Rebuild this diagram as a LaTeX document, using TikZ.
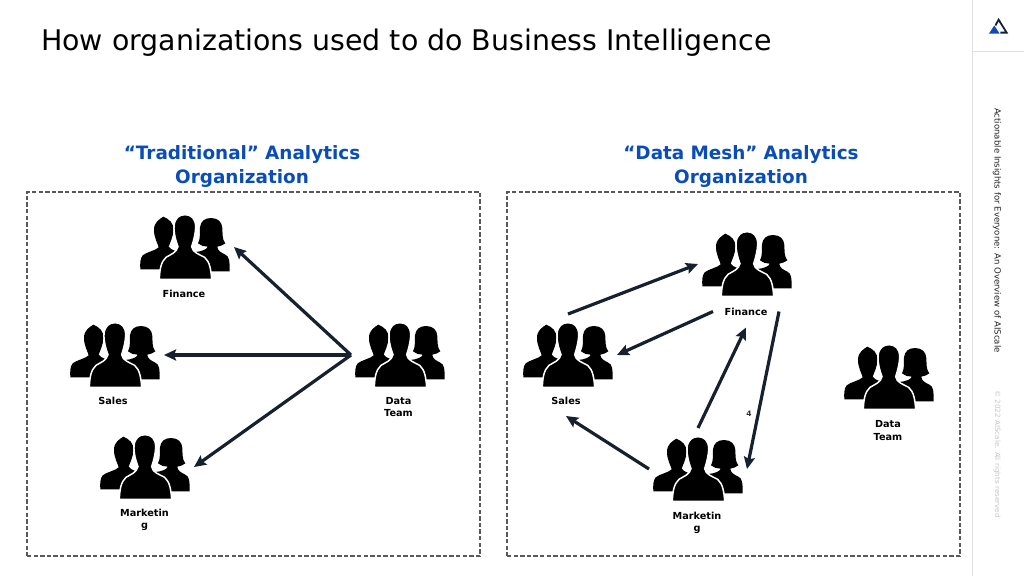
\documentclass[tikz,border=0pt]{standalone}
\usepackage{fontspec}
\setmainfont{DejaVu Sans}
\usetikzlibrary{arrows.meta}
\definecolor{arrowdark}{HTML}{17202E}
\definecolor{headblue}{HTML}{0A4DB8}
\definecolor{logoblue}{HTML}{0F4CB0}
\definecolor{rulegray}{HTML}{E2E2E2}
\newcommand{\fs}[1]{\fontsize{#1}{#1}\selectfont}
\tikzset{
  link/.style={draw=arrowdark,line width=3.2pt,-{Stealth[length=12pt,width=11pt,inset=2pt]}},
  iconbox/.style={minimum width=98pt,minimum height=82pt,inner sep=0pt,outer sep=0pt},
  panel/.style={draw=black!65,line width=1.2pt,dash pattern=on 4.4pt off 2.2pt},
  orghead/.style={text=headblue,font=\fs{18.4}\bfseries,align=center,text width=300pt,inner sep=0pt},
  lab/.style={font=\fs{9.7}\bfseries,align=center,inner sep=0pt,outer sep=0pt},
  people/.pic={
    \begin{scope}[scale=1/3,shift={(-139,-105)}]
      \fill[black] (5,172) .. controls (4,155) and (4,140) .. (12,130)
        .. controls (24,120) and (50,116) .. (60,106)
        .. controls (58,96) and (46,78) .. (46,54)
        .. controls (46,30) and (62,22) .. (74,14)
        .. controls (92,22) and (105,32) .. (104,54)
        .. controls (104,74) and (94,92) .. (90,104)
        .. controls (92,110) and (100,112) .. (112,118)
        -- (90,172) -- cycle;
      \fill[black] (178,94) .. controls (186,80) and (183,60) .. (184,46)
        .. controls (186,28) and (198,18) .. (217,18)
        .. controls (238,18) and (250,30) .. (251,48)
        .. controls (252,65) and (250,82) .. (260,94)
        .. controls (254,100) and (244,102) .. (236,104)
        .. controls (236,116) and (248,122) .. (260,128)
        .. controls (272,134) and (273,145) .. (273,178)
        -- (200,178) -- (170,120) .. controls (190,118) and (205,112) .. (207,104)
        .. controls (196,104) and (186,101) .. (178,94) -- cycle;
      \fill[black,draw=white,line width=1.5pt] (62,202) .. controls (63,175) and (66,150) .. (82,136)
        .. controls (96,127) and (114,122) .. (118,104)
        .. controls (112,88) and (105,66) .. (106,42)
        .. controls (108,18) and (122,8) .. (139,8)
        .. controls (158,8) and (170,20) .. (171,42)
        .. controls (171,66) and (164,88) .. (159,104)
        .. controls (162,122) and (182,127) .. (198,136)
        .. controls (214,150) and (217,175) .. (219,202) -- cycle;
    \end{scope}
  }
}
\begin{document}
\begin{tikzpicture}[x=1pt,y=-1pt]
\useasboundingbox (0,0) rectangle (1024,576);
\fill[white] (0,0) rectangle (1024,576);
% side bar
\coordinate (barT) at (972,0); \coordinate (barB) at (972,576);
\coordinate (ruleL) at (972,51); \coordinate (ruleR) at (1024,51);
\draw[rulegray,line width=1pt] (barT) -- (barB);
\draw[rulegray,line width=1pt] (ruleL) -- (ruleR);
\fill[logoblue] (989,33.5) -- (994.3,25.5) -- (999.5,33.5) -- cycle;
\fill[arrowdark] (994.8,24.6) -- (998.6,18) -- (1008.2,33.5) -- (1000.4,33.5) -- (1000.4,31.6) -- (1005,31.6) -- (998.6,21.5) -- (996,26.3) -- cycle;
\node[rotate=-90,anchor=west,font=\fs{8.55},inner sep=0pt,text=black!85] (side) at (997,108) {Actionable Insights for Everyone: An Overview of AIScale};
\node[rotate=-90,anchor=west,font=\fs{7.2},inner sep=0pt,text=black!22] (copy) at (997,390) {© 2022 AIScale. All rights reserved};
% title
\node[anchor=base west,font=\fs{28.4},inner sep=0pt] (title) at (41,50) {How organizations used to do Business Intelligence};
% headings
\node[orghead] (hl) at (242,166) {“Traditional” Analytics\\[5.6pt]Organization};
\node[orghead] (hr) at (741,166) {“Data Mesh” Analytics\\[5.6pt]Organization};
% panels
\node[panel,minimum width=453pt,minimum height=364pt,inner sep=0pt] (pl) at (253.5,374) {};
\node[panel,minimum width=453pt,minimum height=364pt,inner sep=0pt] (pr) at (733.5,374) {};
% left icons
\node[iconbox] (lfin) at (185,247) {}; \pic at (lfin) {people};
\node[iconbox] (lsal) at (115,355) {}; \pic at (lsal) {people};
\node[iconbox] (lmar) at (145,467) {}; \pic at (lmar) {people};
\node[iconbox] (ldat) at (400,355) {}; \pic at (ldat) {people};
\node[lab] (lfinT) at (184,294) {Finance};
\node[lab] (lsalT) at (113,401) {Sales};
\node[lab] (lmarT) at (144.5,520) {Marketin\\[2pt]g};
\node[lab] (ldatT) at (398.5,407) {Data\\[2.4pt]Team};
% right icons
\node[iconbox] (rfin) at (747,264) {}; \pic at (rfin) {people};
\node[iconbox] (rsal) at (568,355) {}; \pic at (rsal) {people};
\node[iconbox] (rmar) at (698,469) {}; \pic at (rmar) {people};
\node[iconbox] (rdat) at (889,377) {}; \pic at (rdat) {people};
\node[lab,minimum width=66pt,minimum height=32pt] (rfinT) at (746,311.5) {Finance};
\node[lab,minimum height=30pt] (rsalT) at (566,401) {Sales};
\node[lab] (rmarT) at (697,523) {Marketin\\[2pt]g};
\node[lab] (rdatT) at (888,430.5) {Data\\[2.4pt]Team};
\node[font=\fs{7.5}\bfseries,inner sep=0pt,text=black!80] (four) at (749,414) {4};
% left arrows
\draw[link] (ldat.west) -- (lfin.east);
\draw[link] (ldat.west) -- (lsal.east);
\draw[link] (ldat.west) -- (lmar.east);
% right arrows
\draw[link] (rsal.north) -- (rfin.west);
\draw[link] (rfinT.west) -- (rsal.east);
\draw[link] (rmar.west) -- (rsalT.south);
\draw[link] (rmar.north) -- (rfinT.south);
\draw[link] (rfinT.east) -- (rmar.east);
\end{tikzpicture}
\end{document}
